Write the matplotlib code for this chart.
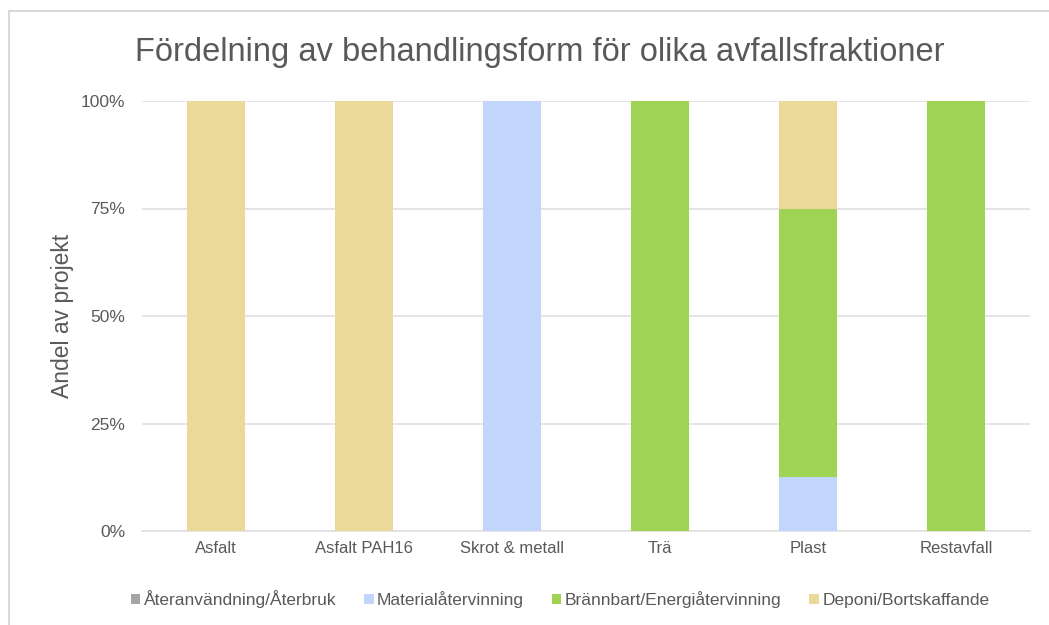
import numpy as np
from matplotlib import pyplot as plt
from matplotlib.lines import Line2D
from matplotlib.ticker import PercentFormatter

plt.rcParams['font.family'] = ['Liberation Sans', 'DejaVu Sans']

categories = ["Asfalt", "Asfalt PAH16", "Skrot & metall", "Trä", "Plast", "Restavfall"]
series_names = ["Återanvändning/Återbruk", "Materialåtervinning",
                "Brännbart/Energiåtervinning", "Deponi/Bortskaffande"]
ateranvandning = [0, 0, 0, 0, 0, 0]
material = [0, 0, 1.0, 0, 0.125, 0]
brannbart = [0, 0, 0, 1.0, 0.625, 1.0]
deponi = [1.0, 1.0, 0, 0, 0.25, 0]
colors = ["#A5A5A5", "#C2D5FB", "#9FD356", "#EAD999"]

fig = plt.figure(figsize=(10.49, 6.25), dpi=100)
ax = fig.add_axes([142 / 1049, 1 - 531 / 625, 888 / 1049, 430 / 625])

x = np.arange(len(categories))
bottom = np.zeros(len(categories))
for name, vals, c in zip(series_names, [ateranvandning, material, brannbart, deponi], colors):
    ax.bar(x, vals, width=0.39, bottom=bottom, color=c, label=name, zorder=3)
    bottom += np.array(vals)

ax.set_xlim(-0.5, len(categories) - 0.5)
ax.set_ylim(0, 1)
ax.set_yticks([0, 0.25, 0.5, 0.75, 1.0])
ax.yaxis.set_major_formatter(PercentFormatter(1.0, decimals=0))
ax.grid(axis='y', color='#E0E0E0', linewidth=1.2, zorder=0)
for s in ['top', 'right', 'left']:
    ax.spines[s].set_visible(False)
ax.spines['bottom'].set_color('#E0E0E0')
ax.spines['bottom'].set_linewidth(1.2)
ax.tick_params(axis='both', length=0, colors='#595959', labelsize=12.5, pad=12)
ax.set_xticks(x)
ax.set_xticklabels(categories)
ax.tick_params(axis='x', labelsize=12, pad=7)
ax.set_ylabel("Andel av projekt", fontsize=16.5, color='#595959', labelpad=5)

fig.text(540 / 1049, 1 - 52 / 625, "Fördelning av behandlingsform för olika avfallsfraktioner",
         ha='center', va='center', fontsize=23.5, color='#595959')

leg = fig.legend(loc='center', bbox_to_anchor=(560 / 1049, 1 - 599 / 625), ncol=4, frameon=False,
                 fontsize=12.5, handlelength=0.55, handleheight=0.55, handletextpad=0.2,
                 columnspacing=1.6, labelcolor='#595959')

# chart frame: only top and left edges show in the crop
fig.lines.append(Line2D([9 / 1049, 1], [1 - 11 / 625, 1 - 11 / 625], transform=fig.transFigure,
                        color='#D9D9D9', linewidth=1.5))
fig.lines.append(Line2D([9 / 1049, 9 / 1049], [0, 1 - 11 / 625], transform=fig.transFigure,
                        color='#D9D9D9', linewidth=1.5))

fig.savefig("out.png", dpi=100)
